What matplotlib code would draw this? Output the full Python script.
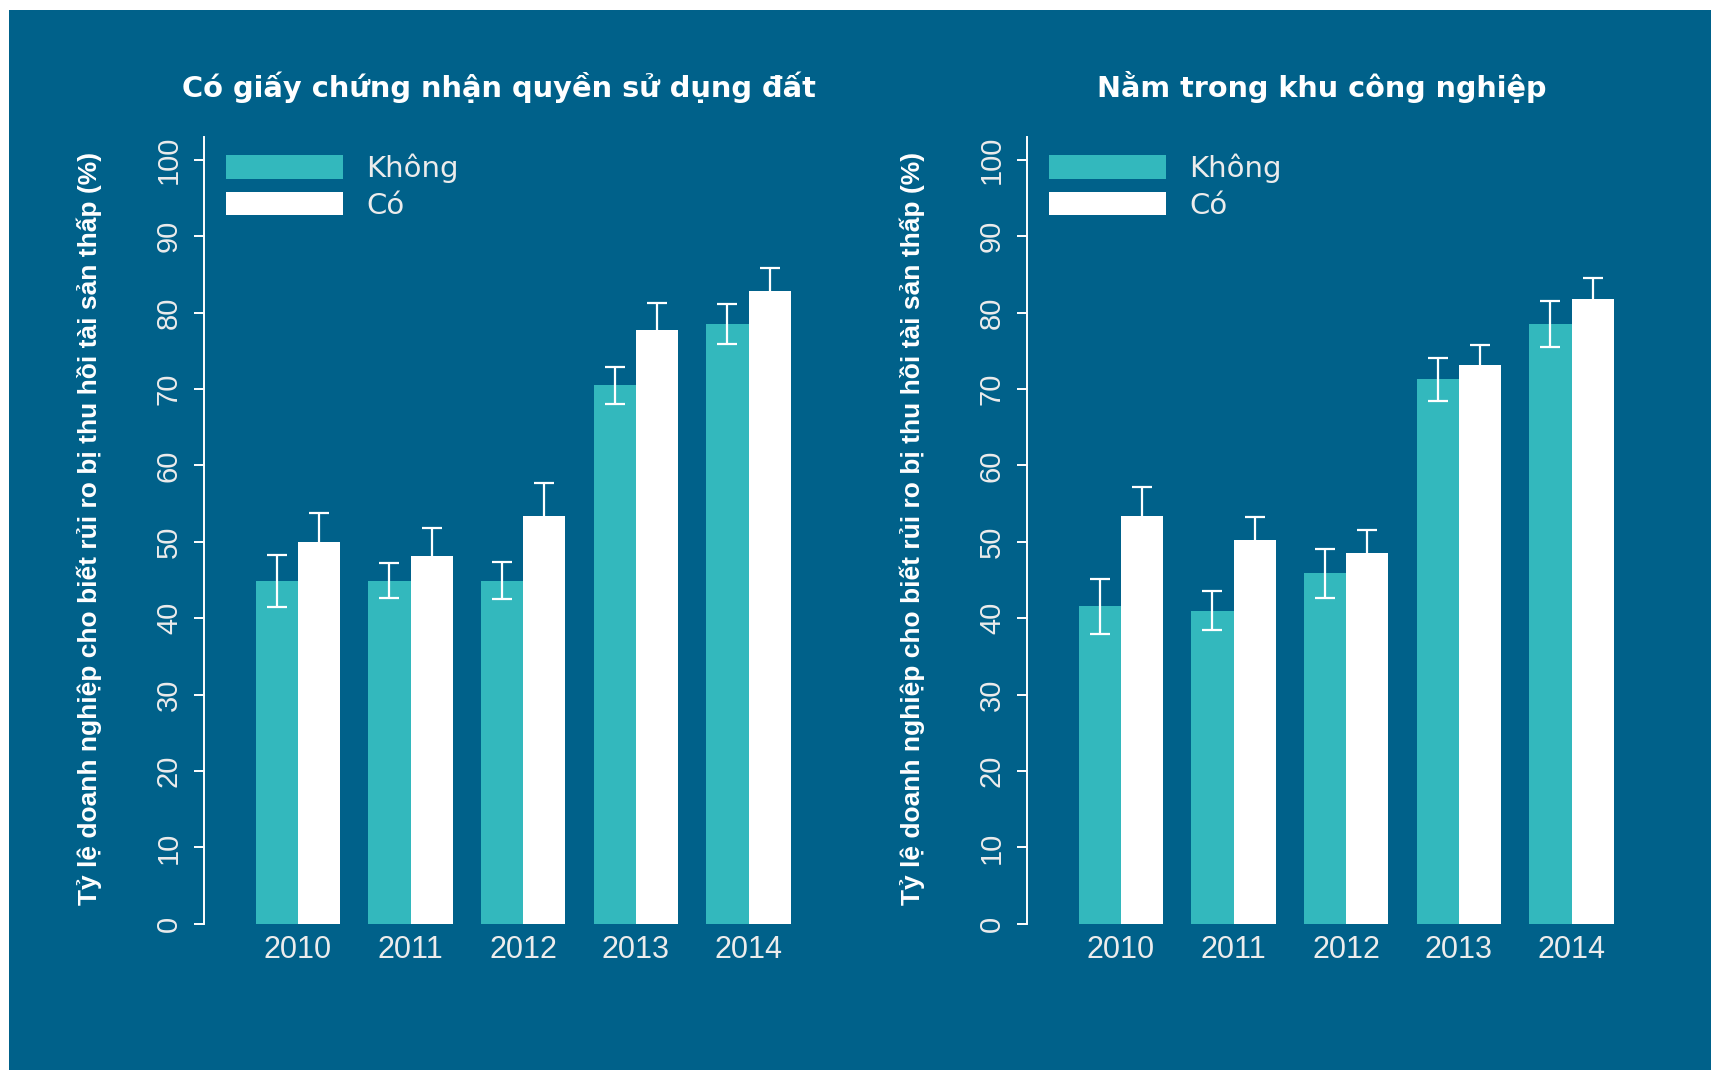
import matplotlib
matplotlib.use("Agg")
import matplotlib.pyplot as plt
from matplotlib import font_manager
from matplotlib.patches import Rectangle
import numpy as np

# data
years = ["2010", "2011", "2012", "2013", "2014"]
series = ["Không", "Có"]

titles = ["Có giấy chứng nhận quyền sử dụng đất", "Nằm trong khu công nghiệp"]
ylabel = "Tỷ lệ doanh nghiệp cho biết rủi ro bị thu hồi tài sản thấp (%)"

# panel 1: land use certificate
p1_khong = [44.9, 44.9, 44.9, 70.5, 78.5]
p1_khong_err = [3.4, 2.3, 2.4, 2.4, 2.6]
p1_co = [50.0, 48.2, 53.4, 77.7, 82.9]
p1_co_err = [3.8, 3.6, 4.3, 3.6, 3.0]

# panel 2: industrial zone
p2_khong = [41.6, 41.0, 45.9, 71.3, 78.5]
p2_khong_err = [3.6, 2.6, 3.2, 2.8, 3.0]
p2_co = [53.4, 50.3, 48.5, 73.1, 81.8]
p2_co_err = [3.8, 3.0, 3.0, 2.7, 2.8]

bg = "#00618a"
teal = "#33b8bd"
txt = "#ececec"

names = {f.name for f in font_manager.fontManager.ttflist}
narrow = "Liberation Sans Narrow" if "Liberation Sans Narrow" in names else "Liberation Sans"

W, H = 1711, 1070
fig = plt.figure(figsize=(W / 100, H / 100), dpi=100, facecolor="white")
fig.patches.append(Rectangle((9 / W, 0), 1 - 9 / W, 1 - 10 / H,
                             transform=fig.transFigure, facecolor=bg,
                             edgecolor="none", zorder=-5))

bw = 0.375
x = np.arange(len(years))
panels = [(p1_khong, p1_khong_err, p1_co, p1_co_err),
          (p2_khong, p2_khong_err, p2_co, p2_co_err)]
lefts = [204, 1027]
title_cx = [499, 1322]
title_size = [20.8, 20.6]

for k, (kh, khe, co, coe) in enumerate(panels):
    left = lefts[k]
    ax = fig.add_axes([left / W, 1 - 923.8 / H, 600.9 / W, 786.8 / H])
    ax.set_facecolor("none")
    ax.bar(x - bw / 2, kh, bw, color=teal, label=series[0], zorder=2)
    ax.bar(x + bw / 2, co, bw, color="white", label=series[1], zorder=2)
    ax.errorbar(x - bw / 2, kh, yerr=khe, fmt="none", ecolor="white",
                elinewidth=1.6, capsize=7, capthick=1.6, zorder=3)
    ax.errorbar(x + bw / 2, co, yerr=coe, fmt="none", ecolor="white",
                elinewidth=1.6, capsize=7, capthick=1.6, zorder=3)
    ax.set_xlim(-0.833, 4.5)
    ax.set_ylim(0, 103)
    ax.set_yticks(range(0, 101, 10))
    ax.set_xticks(x)
    ax.set_xticklabels(years, fontsize=22, color=txt, family=narrow)
    ax.tick_params(axis="x", length=0, pad=8)
    ax.tick_params(axis="y", length=7.2, width=1.4, color="white", pad=8)
    for lab in ax.get_yticklabels():
        lab.set_rotation(90)
        lab.set_va("center")
        lab.set_fontsize(21)
        lab.set_color(txt)
        lab.set_family(narrow)
    for s in ["top", "right", "bottom"]:
        ax.spines[s].set_visible(False)
    ax.spines["left"].set_color("white")
    ax.spines["left"].set_linewidth(1.4)

    leg = ax.legend(loc="upper left", bbox_to_anchor=(0.037, 0.979), frameon=False,
                    fontsize=21, handlelength=4.0, handleheight=0.85,
                    labelspacing=0.3, handletextpad=0.8, borderaxespad=0,
                    borderpad=0)
    for t in leg.get_texts():
        t.set_color(txt)

    fig.text(title_cx[k] / W, 1 - 87 / H, titles[k], ha="center", va="center",
             fontsize=title_size[k], fontweight="bold", color="white",
             family="DejaVu Sans")
    fig.text((left - 115) / W, 1 - 528 / H, ylabel, rotation=90, ha="center",
             va="center", fontsize=19, fontweight="bold", color="white", family=narrow)

fig.savefig("out.png", dpi=100, facecolor="white")
